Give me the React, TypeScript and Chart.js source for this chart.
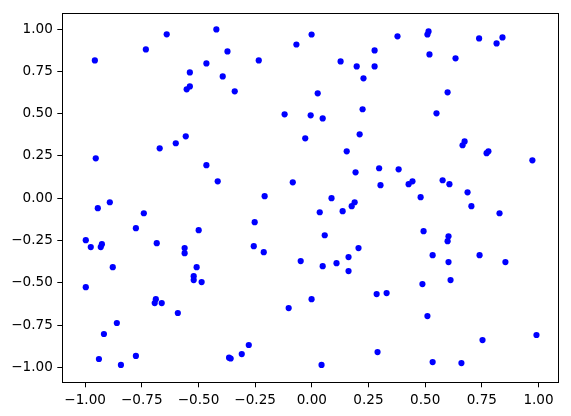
import React, { useEffect, useRef } from "react";
import { Chart, registerables } from "chart.js";

Chart.register(...registerables);

const xs: number[] = [
  -0.957, -0.732, -0.640, -0.421, -0.372, -0.465, -0.538, -0.393, -0.538, -0.552,
  -0.556, -0.600, -0.671, -0.953, -0.465, -0.415, -0.891,
  -0.001, -0.068, -0.234, 0.127, 0.277, 0.198, 0.277, 0.228, -0.340, 0.026, 0.224,
  -0.120, -0.005, 0.048, 0.211, -0.029, 0.154, 0.297, 0.193, -0.084, 0.303, -0.208,
  0.087, 0.189,
  0.378, 0.515, 0.510, 0.738, 0.841, 0.815, 0.519, 0.634, 0.599, 0.550, 0.674, 0.665,
  0.779, 0.771, 0.973, 0.383, 0.577, 0.444, 0.427, 0.607, 0.687, 0.480,
  0.704, 0.828, 0.493, 0.603, 0.599, 0.533, 0.740, 0.603, 0.854, 0.488, 0.612, 0.510,
  0.991, 0.753, 0.533, 0.660,
  0.176, 0.035, 0.136, -0.252, 0.057, -0.256, -0.212, 0.206, 0.162, -0.049, 0.048,
  0.109, 0.162, 0.286, 0.330, -0.001, -0.102, -0.278, -0.309, -0.365, -0.358, 0.290, 0.043,
  -0.944, -0.741, -0.776, -0.499, -0.997, -0.975, -0.926, -0.931, -0.684, -0.561, -0.561,
  -0.878, -0.508, -0.521, -0.521, -0.486, -0.997, -0.688, -0.693, -0.662, -0.591, -0.860,
  -0.917, -0.939, -0.776, -0.842,
];

const ys: number[] = [
  0.815, 0.880, 0.969, 0.998, 0.868, 0.797, 0.744, 0.720, 0.661, 0.644,
  0.366, 0.325, 0.295, 0.236, 0.195, 0.100, -0.024,
  0.968, 0.909, 0.815, 0.809, 0.874, 0.779, 0.779, 0.709, 0.632, 0.620, 0.526,
  0.496, 0.490, 0.472, 0.378, 0.354, 0.277, 0.177, 0.153, 0.094, 0.077, 0.012,
  0.000, -0.024,
  0.957, 0.986, 0.968, 0.945, 0.951, 0.915, 0.850, 0.827, 0.626, 0.502, 0.336, 0.313,
  0.277, 0.266, 0.224, 0.171, 0.106, 0.100, 0.083, 0.083, 0.035, 0.006,
  -0.047, -0.089, -0.195, -0.225, -0.254, -0.337, -0.337, -0.378, -0.378, -0.508, -0.484, -0.697,
  -0.809, -0.839, -0.969, -0.975,
  -0.047, -0.083, -0.077, -0.142, -0.219, -0.284, -0.319, -0.295, -0.348, -0.372, -0.402,
  -0.384, -0.431, -0.567, -0.561, -0.597, -0.650, -0.868, -0.922, -0.943, -0.948, -0.910, -0.986,
  -0.059, -0.089, -0.177, -0.189, -0.248, -0.289, -0.272, -0.289, -0.266, -0.295, -0.325,
  -0.408, -0.408, -0.461, -0.484, -0.496, -0.526, -0.597, -0.620, -0.620, -0.679, -0.738,
  -0.803, -0.951, -0.933, -0.986,
];

const xTicks: number[] = [-1, -0.75, -0.5, -0.25, 0, 0.25, 0.5, 0.75, 1];
const yTicks: number[] = [-1, -0.75, -0.5, -0.25, 0, 0.25, 0.5, 0.75, 1];

const fmt = (v: number) => {
  const s = Math.abs(v).toFixed(2);
  return v < -1e-9 ? "\u2212" + s : s;
};

const frame = {
  id: "frame",
  afterDraw(chart: any) {
    const { ctx, chartArea } = chart;
    ctx.save();
    ctx.strokeStyle = "#000";
    ctx.lineWidth = 1;
    ctx.strokeRect(
      Math.round(chartArea.left) + 0.5,
      Math.round(chartArea.top) + 0.5,
      Math.round(chartArea.right - chartArea.left),
      Math.round(chartArea.bottom - chartArea.top)
    );
    ctx.restore();
  },
};

export default function App() {
  const ref = useRef<HTMLCanvasElement | null>(null);
  useEffect(() => {
    document.body.style.margin = "0";
    const points = xs.map((x, i) => ({ x, y: ys[i] }));
    const font = { family: "DejaVu Sans", size: 13.6 };
    const chart = new Chart(ref.current as HTMLCanvasElement, {
      type: "scatter",
      data: {
        datasets: [
          {
            data: points,
            backgroundColor: "#0000ff",
            borderColor: "#0000ff",
            borderWidth: 0,
            pointRadius: 3.1,
          },
        ],
      },
      options: {
        animation: false,
        responsive: false,
        layout: { padding: { top: 13.3, right: 12.7, left: 0, bottom: 0 } },
        plugins: { legend: { display: false }, tooltip: { enabled: false } },
        scales: {
          x: {
            type: "linear",
            min: -1.1006,
            max: 1.0873,
            afterBuildTicks: (s: any) => {
              s.ticks = xTicks.map((v) => ({ value: v }));
            },
            afterFit: (s: any) => {
              s.height = 33.7;
            },
            grid: {
              drawOnChartArea: false,
              drawTicks: true,
              tickLength: 5,
              color: "#000",
            },
            border: { display: true, color: "#000" },
            ticks: {
              color: "#000",
              font,
              padding: 5,
              maxRotation: 0,
              autoSkip: false,
              callback: (v: any) => fmt(Number(v)),
            },
          },
          y: {
            type: "linear",
            min: -1.0887,
            max: 1.0934,
            afterBuildTicks: (s: any) => {
              s.ticks = yTicks.map((v) => ({ value: v }));
            },
            afterFit: (s: any) => {
              s.width = 62.3;
            },
            grid: {
              drawOnChartArea: false,
              drawTicks: true,
              tickLength: 5,
              color: "#000",
            },
            border: { display: true, color: "#000" },
            ticks: {
              color: "#000",
              font,
              padding: 4.5,
              autoSkip: false,
              callback: (v: any) => fmt(Number(v)),
            },
          },
        },
      },
      plugins: [frame],
    } as any);
    return () => chart.destroy();
  }, []);
  return (
    <div style={{ width: 571, height: 416 }}>
      <canvas ref={ref} width={571} height={416} style={{ display: "block" }} />
    </div>
  );
}
